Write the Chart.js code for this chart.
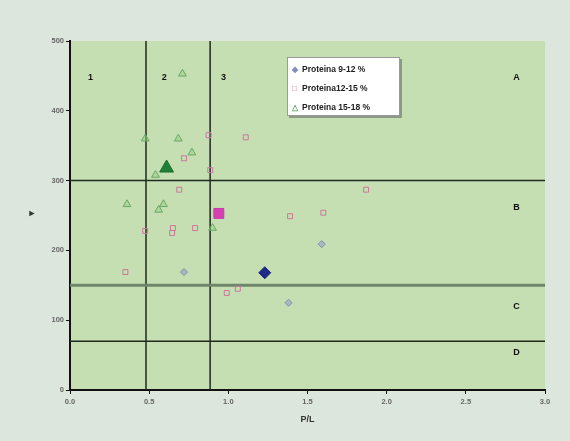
<!DOCTYPE html>
<html lang="es">
<head>
    <meta charset="UTF-8">
    <title>Proteina P/L</title>
    <script src="https://cdn.jsdelivr.net/npm/chart.js"></script>
    <style>
        body {
            margin: 0;
            padding: 0;
            background: #dde6dc;
            font-family: 'Liberation Sans', Arial, sans-serif;
        }
        .wrap {
            position: relative;
            width: 570px;
            height: 441px;
        }
        .legend {
            position: absolute;
            left: 287px;
            top: 57px;
            width: 113px;
            height: 59px;
            background: #fff;
            border: 1px solid #9a9a9a;
            box-shadow: 2px 2px 0 #8a9a86;
            font-size: 8.5px;
            font-weight: bold;
            color: #222;
            padding: 3px 0 0 4px;
            box-sizing: border-box;
        }
        .legend div { height: 19px; line-height: 17px; white-space: nowrap; }
        .legend span { display: inline-block; width: 10px; font-size: 8px; }
    </style>
</head>
<body>
<div class="wrap">
    <canvas id="c" width="570" height="441"></canvas>
    <div class="legend">
        <div><span style="color:#7f8fc0">&#9670;</span>Proteina 9-12 %</div>
        <div><span style="color:#d0709c">&#9633;</span>Proteina12-15 %</div>
        <div><span style="color:#5ea35e">&#9651;</span>Proteina 15-18 %</div>
    </div>
</div>
<script>
    // Proteina 9-12 %
    const s1x = [0.72, 1.59, 1.38];
    const s1y = [169, 209, 125];
    const m1 = [1.23, 168];

    // Proteina 12-15 %
    const s2x = [0.875, 1.11, 0.72, 0.886, 0.69, 1.87, 1.39, 1.60, 0.475, 0.65, 0.645, 0.79, 0.35, 0.99, 1.06];
    const s2y = [365, 362, 332, 315, 287, 287, 249, 254, 228, 232, 225, 232, 169, 139, 145];
    const m2 = [0.94, 253];

    // Proteina 15-18 %
    const s3x = [0.71, 0.475, 0.684, 0.77, 0.54, 0.36, 0.56, 0.59, 0.90];
    const s3y = [453, 360, 360, 340, 308, 266, 258, 266, 232];
    const m3 = [0.61, 318];

    // lineas de zona
    const vLines = [0.48, 0.885];
    const hLines = [300, 150, 70];
    const colLabels = ['1', '2', '3'];
    const colLabelX = [0.13, 0.595, 0.97];
    const rowLabels = ['A', 'B', 'C', 'D'];
    const rowLabelY = [447, 261, 120, 53];

    const xTicks = [0, 0.5, 1, 1.5, 2, 2.5, 3];
    const yTicks = [0, 100, 200, 300, 400, 500];

    const pts = (xs, ys) => xs.map((x, i) => ({ x: x, y: ys[i] }));

    const zones = {
        id: 'zones',
        beforeDraw(chart) {
            const { ctx, chartArea: a } = chart;
            ctx.save();
            ctx.fillStyle = '#c5dfb3';
            ctx.fillRect(a.left, a.top, a.right - a.left, a.bottom - a.top);
            ctx.restore();
        },
        beforeDatasetsDraw(chart) {
            const { ctx, chartArea: a, scales: { x, y } } = chart;
            ctx.save();
            ctx.strokeStyle = '#1e2a1e';
            ctx.lineWidth = 1.5;
            vLines.forEach(v => {
                const px = x.getPixelForValue(v);
                ctx.beginPath(); ctx.moveTo(px, a.top); ctx.lineTo(px, a.bottom); ctx.stroke();
            });
            hLines.forEach((v, i) => {
                const py = y.getPixelForValue(v);
                ctx.strokeStyle = i === 1 ? '#6f866a' : '#1e2a1e';
                ctx.lineWidth = i === 1 ? 3 : 1.5;
                ctx.beginPath(); ctx.moveTo(a.left, py); ctx.lineTo(a.right, py); ctx.stroke();
            });
            ctx.fillStyle = '#111';
            ctx.font = 'bold 9px "Liberation Sans", Arial';
            ctx.textAlign = 'center';
            ctx.textBaseline = 'middle';
            colLabels.forEach((t, i) => ctx.fillText(t, x.getPixelForValue(colLabelX[i]), y.getPixelForValue(447)));
            rowLabels.forEach((t, i) => ctx.fillText(t, x.getPixelForValue(2.82), y.getPixelForValue(rowLabelY[i])));
            // titulos de ejes
            ctx.fillStyle = '#333';
            ctx.fillText('P/L', (a.left + a.right) / 2, 420);
            ctx.fillText('\u25BA', 32, 214);
            ctx.restore();
        }
    };

    new Chart(document.getElementById('c'), {
        type: 'scatter',
        data: {
            datasets: [
                { label: 'Proteina 9-12 %', data: pts(s1x, s1y), pointStyle: 'rectRot', pointRadius: 3.5,
                  borderColor: '#7f8fb0', backgroundColor: 'rgba(150,160,200,0.6)', borderWidth: 1 },
                { label: 'Proteina12-15 %', data: pts(s2x, s2y), pointStyle: 'rect', pointRadius: 3.5,
                  borderColor: '#c9789c', backgroundColor: 'rgba(0,0,0,0)', borderWidth: 1 },
                { label: 'Proteina 15-18 %', data: pts(s3x, s3y), pointStyle: 'triangle', pointRadius: 4.5,
                  borderColor: '#6aa866', backgroundColor: 'rgba(150,205,130,0.5)', borderWidth: 1 },
                { label: 'm1', data: [{ x: m1[0], y: m1[1] }], pointStyle: 'rectRot', pointRadius: 6,
                  borderColor: '#1a2478', backgroundColor: '#1f2a86' },
                { label: 'm2', data: [{ x: m2[0], y: m2[1] }], pointStyle: 'rect', pointRadius: 7,
                  borderColor: '#c83aa8', backgroundColor: '#d440b2' },
                { label: 'm3', data: [{ x: m3[0], y: m3[1] }], pointStyle: 'triangle', pointRadius: 8,
                  borderColor: '#1a6e2e', backgroundColor: '#1f8038' }
            ]
        },
        options: {
            responsive: false,
            animation: false,
            layout: { padding: { top: 41, right: 25, left: 0, bottom: 0 } },
            plugins: { legend: { display: false }, tooltip: { enabled: false } },
            scales: {
                x: {
                    type: 'linear', min: 0, max: 3,
                    afterBuildTicks: s => { s.ticks = xTicks.map(v => ({ value: v })); },
                    afterFit: s => { s.height = 51; },
                    grid: { drawOnChartArea: false, color: '#111', tickLength: 4 },
                    border: { color: '#111', width: 2 },
                    ticks: { color: '#666', font: { size: 7.5, weight: 'bold' }, padding: 3,
                             callback: v => v.toFixed(1) }
                },
                y: {
                    min: 0, max: 500,
                    afterBuildTicks: s => { s.ticks = yTicks.map(v => ({ value: v })); },
                    afterFit: s => { s.width = 70; },
                    grid: { drawOnChartArea: false, color: '#111', tickLength: 4 },
                    border: { color: '#111', width: 2 },
                    ticks: { color: '#666', font: { size: 7.5, weight: 'bold' }, padding: 2 }
                }
            }
        },
        plugins: [zones]
    });
</script>
</body>
</html>
